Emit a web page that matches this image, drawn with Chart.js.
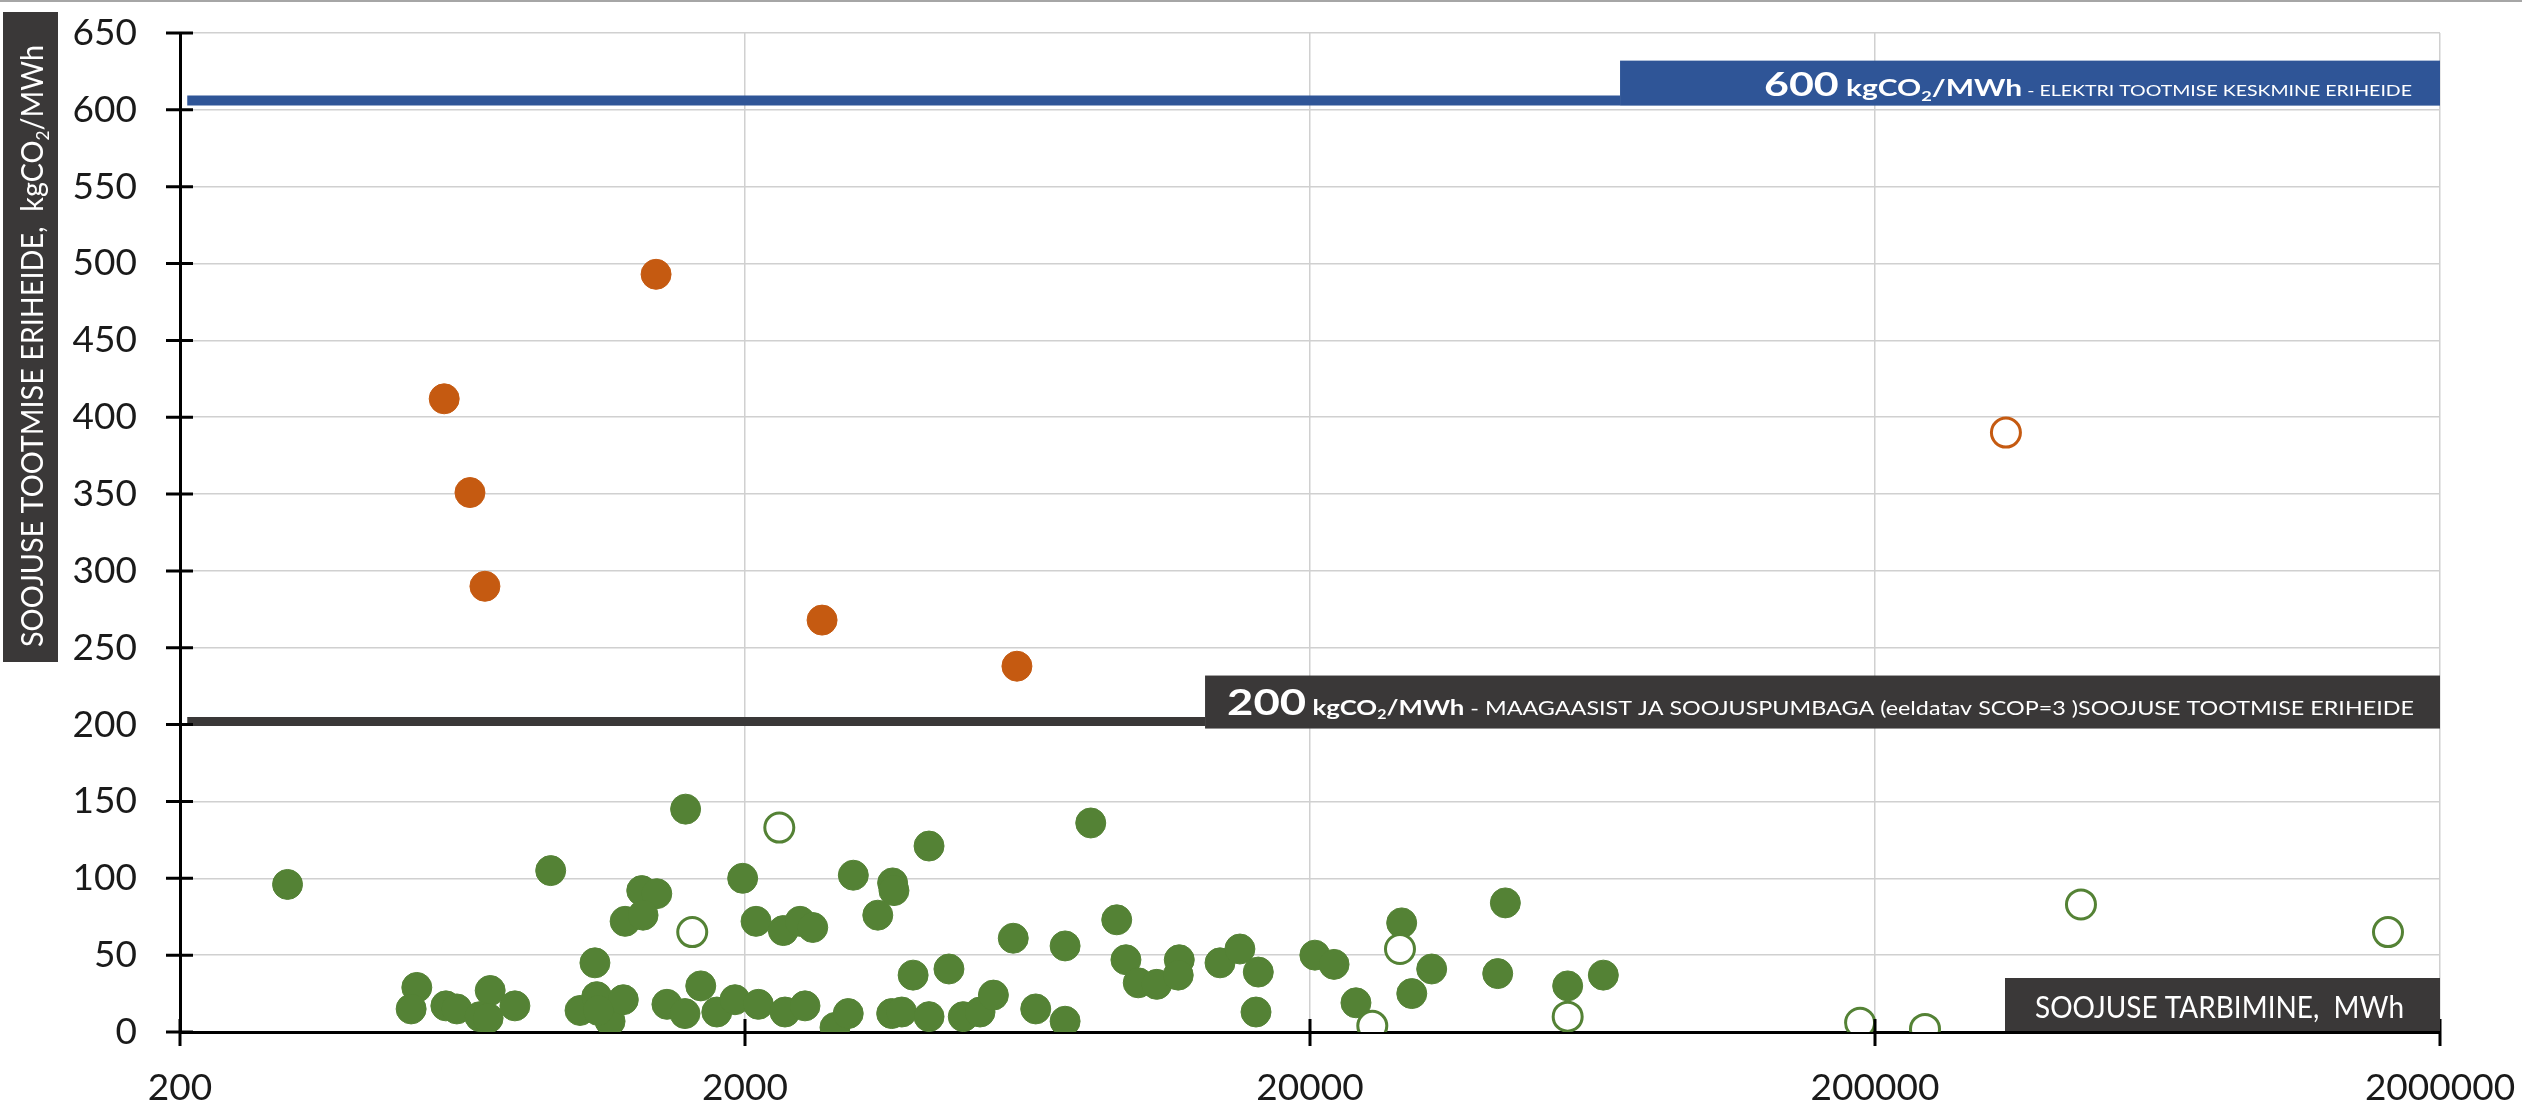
<!DOCTYPE html>
<html>
<head>
<meta charset="utf-8">
<script src="https://cdn.jsdelivr.net/npm/chart.js@4.4.1/dist/chart.umd.min.js"></script>
<style>
  html, body { margin: 0; padding: 0; background: #fff; }
  #wrap { width: 2522px; height: 1109px; }
</style>
</head>
<body>
<div id="wrap"><canvas id="eriheideChart" width="2522" height="1109"></canvas></div>
<script>
// soojuse tarbimine (MWh) vs soojuse tootmise eriheide (kgCO2/MWh)
const greenX = [310, 906, 1570, 1981, 2092, 1313, 1396, 1227, 1320, 1085,
  525, 513, 591, 618, 708, 679, 702, 783, 1021, 1093, 1154, 1218, 1100,
  1455, 1566, 1670, 1783, 1920, 2112, 2338, 2503, 2636, 3110, 3650, 3670,
  3436, 4234, 8184, 9098, 5968, 7372, 9446, 9932, 10710, 11740, 11690,
  13860, 15030, 16200, 16050, 3968, 4592, 2354, 2554, 2886, 3046, 3636,
  3788, 4234, 4868, 5212, 5504, 6540, 7372, 20400, 22060, 24120, 29060,
  32840, 30280, 44340, 42980, 57160, 66100];
const greenY = [96, 105, 145, 100, 72, 92, 90, 72, 76, 45,
  29, 15, 17, 15, 27, 10, 9, 17, 14, 23, 7, 21, 14,
  18, 12, 30, 13, 21, 18, 66, 72, 68, 102, 97, 92,
  76, 121, 136, 73, 61, 56, 47, 32, 31, 47, 37,
  45, 54, 39, 13, 37, 41, 13, 17, 3, 12, 12,
  13, 10, 10, 13, 24, 15, 7, 50, 44, 19, 71,
  41, 25, 84, 38, 30, 37];

const greenOpenX = [1613, 2300, 25780, 28860, 57160, 188200, 245200, 463000, 1618000];
const greenOpenY = [65, 133, 4, 54, 10, 6, 2, 83, 65];

const orangeX = [587, 652, 693, 1392, 2738, 6058];
const orangeY = [412, 351, 290, 493, 268, 238];

const orangeOpenX = [341000];
const orangeOpenY = [390];

const xTicks = [200, 2000, 20000, 200000, 2000000];
const yTickStep = 50;

// reference levels: elekter ~600, maagaas + soojuspump ~200
const refLevels = [606, 202];

const pts = (xs, ys) => xs.map((x, i) => ({ x: x, y: ys[i] }));

const GREEN = '#548235';
const ORANGE = '#C55A11';
const BLUE = '#2F5597';
const DARK = '#3A3838';
const FONT = 'Lato';

function drawRuns(ctx, runs, left, right, baseline, color) {
  let total = 0;
  runs.forEach(r => { ctx.font = r.font; r.w = ctx.measureText(r.text).width; total += r.w; });
  const sx = (right - left) / total;
  ctx.save();
  ctx.translate(left, baseline);
  ctx.scale(sx, 1);
  ctx.fillStyle = color;
  ctx.textAlign = 'left';
  ctx.textBaseline = 'alphabetic';
  let x = 0;
  runs.forEach(r => { ctx.font = r.font; ctx.fillText(r.text, x, r.dy || 0); x += r.w; });
  ctx.restore();
}

const decorations = {
  id: 'decorations',
  afterDraw(chart) {
    const ctx = chart.ctx;
    const xs = chart.scales.x, ys = chart.scales.y;
    const area = chart.chartArea;
    ctx.save();

    // thin frame line on top
    ctx.fillStyle = '#a6a6a6';
    ctx.fillRect(0, 0, chart.width, 2);

    // cross tick marks
    ctx.strokeStyle = '#000';
    ctx.lineWidth = 3;
    ctx.beginPath();
    ys.ticks.forEach(t => {
      const y = ys.getPixelForValue(t.value);
      ctx.moveTo(area.left - 14, y);
      ctx.lineTo(area.left + 13, y);
    });
    xs.ticks.forEach(t => {
      const x = xs.getPixelForValue(t.value);
      ctx.moveTo(x, area.bottom - 13);
      ctx.lineTo(x, area.bottom + 14);
    });
    ctx.moveTo(area.left, area.bottom);
    ctx.lineTo(area.left, area.bottom + 14);
    ctx.stroke();

    // 600 label box
    let yl = ys.getPixelForValue(refLevels[0]);
    let bl = xs.getPixelForValue(70760);
    ctx.fillStyle = BLUE;
    ctx.fillRect(bl, yl - 40, area.right - bl, 45);
    drawRuns(ctx, [
      { text: '600', font: 'bold 33px ' + FONT },
      { text: ' kgCO', font: 'bold 23px ' + FONT },
      { text: '2', font: 'bold 14px ' + FONT, dy: 5 },
      { text: '/MWh', font: 'bold 23px ' + FONT },
      { text: ' - ELEKTRI TOOTMISE KESKMINE ERIHEIDE', font: '15px ' + FONT }
    ], area.right - 676, area.right - 28, yl - 5, '#fff');

    // 200 label box
    yl = ys.getPixelForValue(refLevels[1]);
    bl = xs.getPixelForValue(13040);
    ctx.fillStyle = DARK;
    ctx.fillRect(bl, yl - 46, area.right - bl, 53);
    drawRuns(ctx, [
      { text: '200', font: 'bold 37px ' + FONT },
      { text: ' kgCO', font: 'bold 21px ' + FONT },
      { text: '2', font: 'bold 13px ' + FONT, dy: 4 },
      { text: '/MWh', font: 'bold 21px ' + FONT },
      { text: ' - MAAGAASIST JA SOOJUSPUMBAGA (eeldatav SCOP=3 )SOOJUSE TOOTMISE ERIHEIDE', font: '19px ' + FONT }
    ], bl + 22, area.right - 26, yl - 7, '#fff');

    // x axis title
    ctx.fillStyle = DARK;
    ctx.fillRect(area.right - 435, area.bottom - 54, 435, 53);
    drawRuns(ctx, [
      { text: 'SOOJUSE TARBIMINE,  MWh', font: '30px ' + FONT }
    ], area.right - 405, area.right - 36, area.bottom - 14, '#fff');

    // y axis title
    ctx.fillStyle = DARK;
    ctx.fillRect(3, 12, 55, 650);
    ctx.save();
    ctx.translate(43, 647);
    ctx.rotate(-Math.PI / 2);
    drawRuns(ctx, [
      { text: 'SOOJUSE TOOTMISE ERIHEIDE,  kgCO', font: '30px ' + FONT },
      { text: '2', font: '18px ' + FONT, dy: 6 },
      { text: '/MWh', font: '30px ' + FONT }
    ], 0, 602, 0, '#fff');
    ctx.restore();

    ctx.restore();
  }
};

const data = {
  datasets: [
    {
      label: 'elekter',
      data: [{ x: 206, y: refLevels[0] }, { x: 70760, y: refLevels[0] }],
      showLine: true, borderColor: BLUE, borderWidth: 10, pointRadius: 0, order: 5
    },
    {
      label: 'maagaas',
      data: [{ x: 206, y: refLevels[1] }, { x: 13040, y: refLevels[1] }],
      showLine: true, borderColor: DARK, borderWidth: 9, pointRadius: 0, order: 5
    },
    {
      label: 'green',
      data: pts(greenX, greenY),
      backgroundColor: GREEN, borderColor: GREEN, borderWidth: 1, pointRadius: 15, order: 3
    },
    {
      label: 'orange',
      data: pts(orangeX, orangeY),
      backgroundColor: ORANGE, borderColor: ORANGE, borderWidth: 1, pointRadius: 15, order: 3
    },
    {
      label: 'green open',
      data: pts(greenOpenX, greenOpenY),
      backgroundColor: '#fff', borderColor: GREEN, borderWidth: 3, pointRadius: 14.5, order: 1
    },
    {
      label: 'orange open',
      data: pts(orangeOpenX, orangeOpenY),
      backgroundColor: '#fff', borderColor: ORANGE, borderWidth: 3, pointRadius: 14.5, order: 1
    }
  ]
};

const config = {
  type: 'scatter',
  data: data,
  options: {
    responsive: false,
    animation: false,
    events: [],
    layout: { padding: { left: 0, right: 82, top: 33, bottom: 0 } },
    plugins: { legend: { display: false }, tooltip: { enabled: false } },
    scales: {
      x: {
        type: 'logarithmic',
        min: 200,
        max: 2000000,
        afterBuildTicks: (scale) => { scale.ticks = xTicks.map(v => ({ value: v })); },
        afterFit: (scale) => {
          scale.height = 77;
          scale.paddingLeft = 0;
          scale.paddingRight = 0;
        },
        grid: { color: '#d0d0d0', lineWidth: 1.5, drawTicks: false },
        border: { display: true, color: '#000', width: 3 },
        ticks: {
          autoSkip: false, maxRotation: 0, padding: 34,
          color: '#1a1a1a', font: { family: FONT, size: 37 },
          callback: (v) => String(v)
        }
      },
      y: {
        min: 0,
        max: 650,
        afterFit: (scale) => {
          scale.width = 180;
          scale.paddingTop = 0;
          scale.paddingBottom = 0;
        },
        grid: { color: '#d0d0d0', lineWidth: 1.5, drawTicks: false },
        border: { display: true, color: '#000', width: 3 },
        ticks: {
          stepSize: yTickStep, autoSkip: false, padding: 43,
          color: '#1a1a1a', font: { family: FONT, size: 37 }
        }
      }
    }
  },
  plugins: [decorations]
};

const eriheideChart = new Chart(document.getElementById('eriheideChart'), config);
</script>
</body>
</html>
